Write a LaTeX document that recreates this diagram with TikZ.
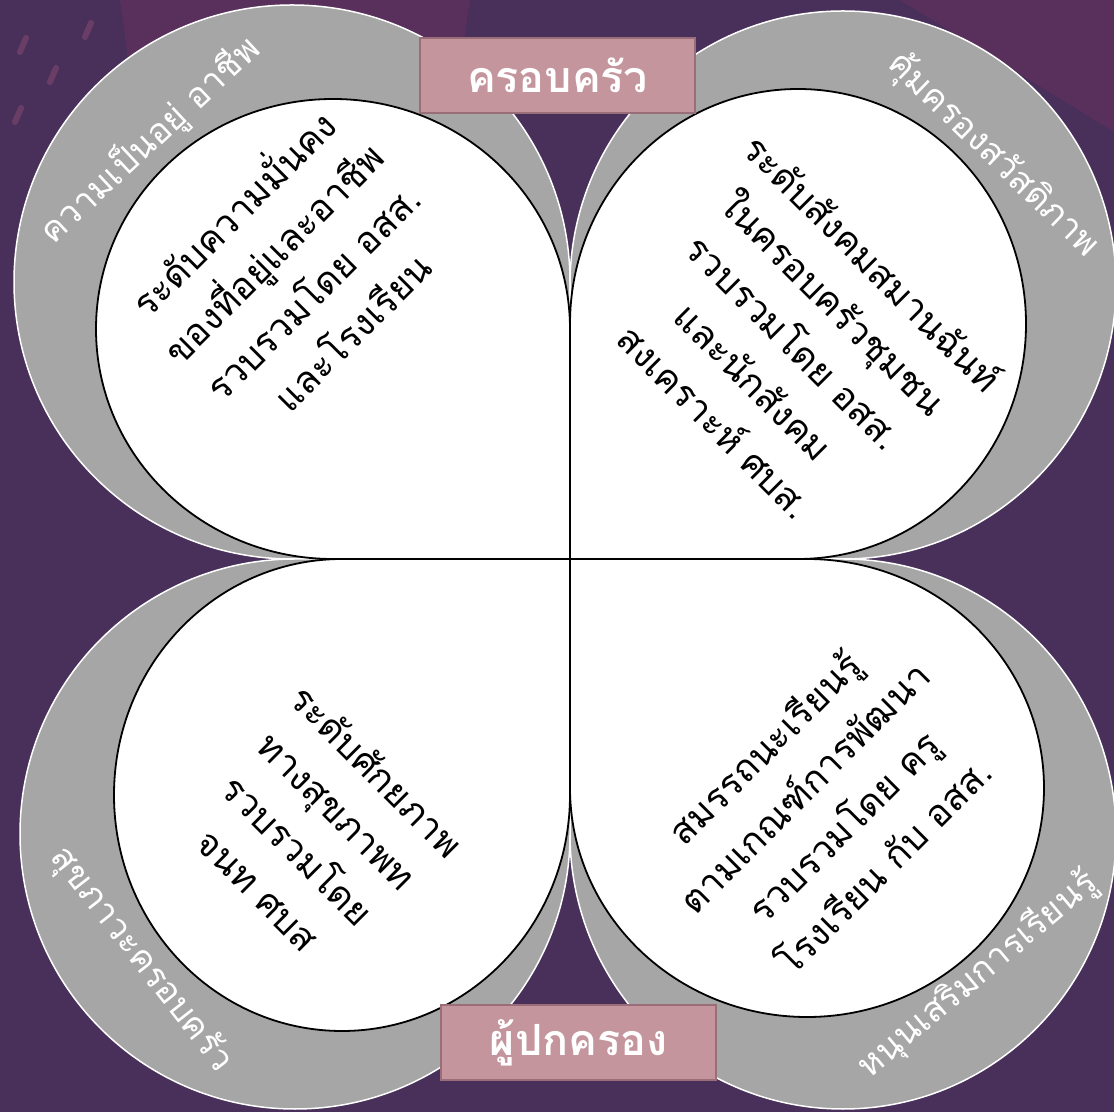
\documentclass[tikz,border=0pt]{standalone}
\usepackage{fontspec}
\newfontfamily\thai[Script=Thai]{Loma}
\usetikzlibrary{calc}
\definecolor{bgpurple}{HTML}{48305A}
\definecolor{ringgray}{HTML}{A6A6A6}
\definecolor{tagpink}{HTML}{C4959C}
\definecolor{tagedge}{HTML}{9A6E78}
\definecolor{haze}{HTML}{6E2E5E}
\def\petal[#1](#2:#3:#4:#5){\draw[#1] ($(mid)+(#2)$) arc[start angle=#3, delta angle=-270, x radius=#4pt, y radius=#5pt] -- (mid) -- cycle;}
\tikzset{
  ring/.style={fill=ringgray, draw=white, line width=1.5pt},
  leaf/.style={fill=white, draw=black, line width=1.8pt},
  tag/.style={fill=tagpink, draw=tagedge, line width=1.5pt, minimum width=275pt, minimum height=75pt, text=white, font=\thai\bfseries\fontsize{43}{50}\selectfont},
  inner/.style={align=center, font=\thai\fontsize{37}{56}\selectfont},
  outer/.style={text=white, font=\thai\fontsize{35}{40}\selectfont}
}

\begin{document}
\begin{tikzpicture}[x=1pt,y=1pt]
			%%%%% BACKGROUND %%%%%
			\useasboundingbox (0,0) rectangle (1114,1112);
			\clip (0,0) rectangle (1114,1112);
			\fill[bgpurple] (0,0) rectangle (1114,1112);
			\fill[haze, opacity=0.45] (120,1112) -- (470,1112) -- (455,1010) -- (135,1000) -- cycle;
			\fill[haze, opacity=0.45] (900,1112) -- (1114,1112) -- (1114,980) -- cycle;
			\foreach \x/\y in {20/1060, 50/1030, 85/1075, 15/990, 55/960, 100/1010}
				\draw[haze!80!pink, line width=6pt, line cap=round, opacity=0.5] (\x,\y) -- ++(6,14);
			
			\coordinate (mid) at (570,553);
			
			%%%%% OUTER RINGS %%%%%
			\petal[ring](-278,0:270:278:277);
			\petal[ring](0,274:180:273:274);
			\petal[ring](273,0:90:273:275);
			\petal[ring](0,-275:0:275:275);
			
			%%%%% INNER LEAVES %%%%%
			\petal[leaf](-237,0:270:237:230);
			\petal[leaf](0,235:180:228:235);
			\petal[leaf](237,0:90:237:229);
			\petal[leaf](0,-236:0:228:236);
			
			%%%%% TAGS %%%%%
			\node[tag] (family) at (557.5,1036.5) {ครอบครัว};
			\node[tag] (parent) at (578.5,69.5) {ผู้ปกครอง};
			
			%%%%% RING TEXT %%%%%
			\node[outer, rotate=43] (ringTL) at (150,972) {ความเป็นอยู่ อาชีพ};
			\node[outer, rotate=-44] (ringTR) at (993,957) {คุ้มครองสวัสดิภาพ};
			\node[outer, rotate=-52] (ringBL) at (141,152) {สุขภาวะครอบครัว};
			\node[outer, rotate=40] (ringBR) at (978,137) {หนุนเสริมการเรียนรู้};
			
			%%%%% LEAF TEXT %%%%%
			\node[inner, rotate=45] (leafTL) at (290,842) {ระดับความมั่นคง\\ของที่อยู่และอาชีพ\\รวบรวมโดย อสส.\\และโรงเรียน};
			\node[inner, rotate=-45] (leafTR) at (795,771) {ระดับสังคมสมานฉันท์\\ในครอบครัวชุมชน\\รวบรวมโดย อสส.\\และนักสังคม\\สงเคราะห์ ศบส.};
			\node[inner, rotate=-45] (leafBL) at (318,282) {ระดับศักยภาพ\\ทางสุขภาพท\\รวบรวมโดย\\จนท ศบส};
			\node[inner, rotate=45] (leafBR) at (823,306) {สมรรถนะเรียนรู้\\ตามเกณฑ์การพัฒนา\\รวบรวมโดย ครู\\โรงเรียน กับ อสส.};
		\end{tikzpicture}
\end{document}
